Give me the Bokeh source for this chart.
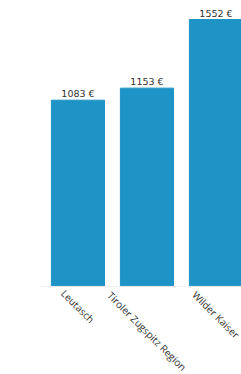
import math
from bokeh.plotting import figure
from bokeh.models import Range1d, ColumnDataSource, LabelSet, Span
from bokeh.core.properties import value
from bokeh.embed import file_html
from bokeh.resources import INLINE

regions = ["Leutasch", "Tiroler Zugspitz Region", "Wilder Kaiser"]
prices = [1083, 1153, 1552]
price_labels = [f"{v} €" for v in prices]

xs = list(range(len(regions)))
# rotated category labels: centred under each bar, top edge just below the axis
CHAR_W, FONT_H = 4.7, 7.0
label_drop = [-(4 + (len(r) * CHAR_W + FONT_H) * math.sqrt(0.5) / 2) for r in regions]
src = ColumnDataSource(dict(x=xs, top=prices, label=price_labels,
                            region=regions, base=[0] * len(regions), drop=label_drop))

p = figure(width=241, height=374, output_backend="svg", toolbar_location=None,
           x_range=Range1d(-0.543, 2.37), y_range=Range1d(-512, 1616),
           min_border_left=40, min_border_right=0, min_border_top=8,
           min_border_bottom=0)
p.vbar(x="x", top="top", width=0.77, source=src, fill_color="#1e93c6",
       line_color="#1e93c6")
p.add_layout(Span(location=0, dimension="width", line_color="#eeeeee", line_width=1))
p.add_layout(LabelSet(x="x", y="top", text="label", source=src,
                      text_align="center", text_baseline="bottom", y_offset=1,
                      text_font_size="9.5px", text_color="#333333",
                      text_font=value("DejaVu Sans")))
p.add_layout(LabelSet(x="x", y="base", text="region", source=src,
                      y_offset="drop", angle=-math.pi / 4,
                      text_align="center", text_baseline="middle",
                      text_font_size="10px", text_color="#333333",
                      text_font=value("Open Sans")))
p.xaxis.visible = False
p.yaxis.visible = False
p.xgrid.visible = False
p.ygrid.visible = False
p.outline_line_color = None

open("out.html", "w").write(file_html(p, INLINE))
